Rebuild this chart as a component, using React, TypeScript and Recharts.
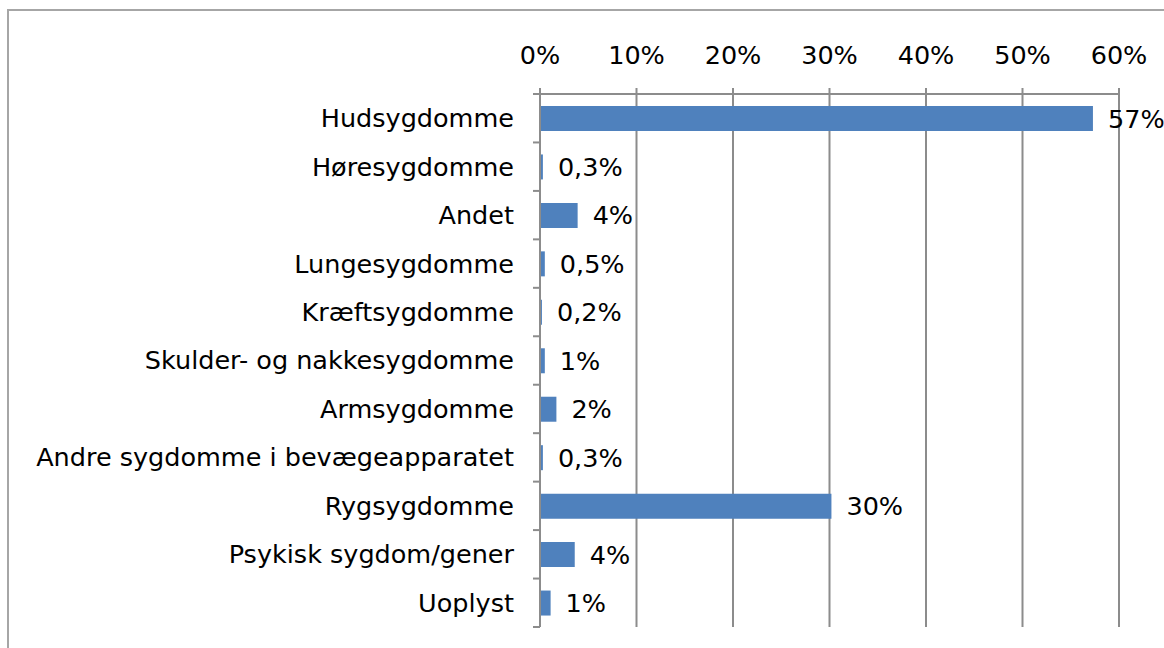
import React from 'react';
import { BarChart, Bar, XAxis, YAxis, CartesianGrid, LabelList } from 'recharts';

const categories = [
  'Hudsygdomme',
  'Høresygdomme',
  'Andet',
  'Lungesygdomme',
  'Kræftsygdomme',
  'Skulder- og nakkesygdomme',
  'Armsygdomme',
  'Andre sygdomme i bevægeapparatet',
  'Rygsygdomme',
  'Psykisk sygdom/gener',
  'Uoplyst',
];
const values = [0.573, 0.003, 0.039, 0.005, 0.002, 0.005, 0.017, 0.003, 0.302, 0.036, 0.011];
const valueLabels = ['57%', '0,3%', '4%', '0,5%', '0,2%', '1%', '2%', '0,3%', '30%', '4%', '1%'];
const xTicks = [0, 0.1, 0.2, 0.3, 0.4, 0.5, 0.6];

const data = categories.map((name, i) => ({ name, value: values[i], label: valueLabels[i] }));

const FONT = '"DejaVu Sans", Verdana, sans-serif';
const FONT_SIZE = 25.5;
const AXIS_GRAY = '#8c8c8c';

const MARGIN = { top: 64, right: 45, bottom: 21, left: 0 };
const CHART_W = 1164;
const CHART_H = 648;
const PLOT_H = CHART_H - MARGIN.top - 30 - MARGIN.bottom;
const BAND = PLOT_H / categories.length;

// category label plus the short tick at the band edges
const CategoryTick = (props: any) => {
  const { x, y, payload, index } = props;
  const axisX = x + 26;
  return (
    <g>
      <line x1={axisX - 7} x2={axisX} y1={y - BAND / 2} y2={y - BAND / 2} stroke={AXIS_GRAY} strokeWidth={2} />
      {index === categories.length - 1 && (
        <line x1={axisX - 7} x2={axisX} y1={y + BAND / 2} y2={y + BAND / 2} stroke={AXIS_GRAY} strokeWidth={2} />
      )}
      <text x={x} y={y} dy="0.35em" textAnchor="end" fill="#000" fontFamily={FONT} fontSize={FONT_SIZE}>
        {payload.value}
      </text>
    </g>
  );
};

const App: React.FC = () => {
  return (
    <div style={{ position: 'fixed', left: 0, top: 0, width: 1164, height: 648, overflow: 'hidden', background: '#fff' }}>
      <div
        style={{
          position: 'absolute',
          left: 7,
          top: 9,
          width: 1200,
          height: 700,
          border: '2px solid #a6a6a6',
        }}
      />
      <div style={{ position: 'absolute', left: 0, top: 0 }}>
        <BarChart width={CHART_W} height={CHART_H} data={data} layout="vertical" margin={MARGIN}>
          <CartesianGrid horizontal={false} stroke={AXIS_GRAY} strokeWidth={2} />
          <XAxis
            type="number"
            orientation="top"
            domain={[0, 0.6]}
            ticks={xTicks}
            height={30}
            tickFormatter={(v: number) => `${Math.round(v * 100)}%`}
            tick={{ fill: '#000', fontFamily: FONT, fontSize: FONT_SIZE }}
            tickSize={6}
            tickMargin={24}
            axisLine={{ stroke: AXIS_GRAY, strokeWidth: 2 }}
            tickLine={{ stroke: AXIS_GRAY, strokeWidth: 2 }}
            interval={0}
          />
          <YAxis
            type="category"
            dataKey="name"
            width={540}
            tick={<CategoryTick />}
            tickLine={false}
            tickSize={7}
            tickMargin={19}
            axisLine={{ stroke: AXIS_GRAY, strokeWidth: 2 }}
            interval={0}
          />
          <Bar dataKey="value" fill="#4F81BD" barSize={25} isAnimationActive={false}>
            <LabelList
              dataKey="label"
              position="right"
              offset={15}
              fill="#000"
              fontFamily={FONT}
              fontSize={FONT_SIZE}
            />
          </Bar>
        </BarChart>
      </div>
    </div>
  );
};

export default App;
